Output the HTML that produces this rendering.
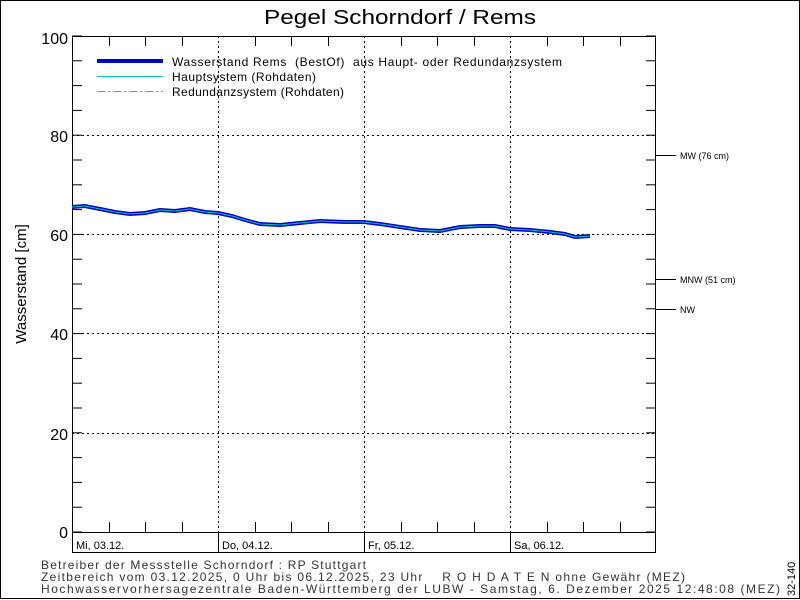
<!DOCTYPE html>
<html><head><meta charset="utf-8"><style>
body{margin:0;background:#fff}
svg{display:block;font-family:"Liberation Sans",sans-serif}
text{white-space:pre}
</style></head><body>
<svg width="800" height="600" viewBox="0 0 800 600">
<rect x="0.5" y="0.5" width="799" height="598" fill="#fff" stroke="#000"/>
<text x="264" y="24" font-size="20" textLength="272" lengthAdjust="spacingAndGlyphs">Pegel Schorndorf / Rems</text>
<g stroke="#000" stroke-dasharray="2,3" stroke-width="1">
<line x1="72" y1="135.5" x2="656" y2="135.5"/>
<line x1="72" y1="234.5" x2="656" y2="234.5"/>
<line x1="72" y1="333.5" x2="656" y2="333.5"/>
<line x1="72" y1="433.5" x2="656" y2="433.5"/>
<line x1="218.5" y1="36" x2="218.5" y2="532"/>
<line x1="364.5" y1="36" x2="364.5" y2="532"/>
<line x1="510.5" y1="36" x2="510.5" y2="532"/>
</g>
<rect x="72.5" y="36.5" width="583" height="516" fill="none" stroke="#000"/>
<line x1="72" y1="532.5" x2="656" y2="532.5" stroke="#000"/>
<g stroke="#000">
<line x1="218.5" y1="532" x2="218.5" y2="553"/>
<line x1="364.5" y1="532" x2="364.5" y2="553"/>
<line x1="510.5" y1="532" x2="510.5" y2="553"/>
<line x1="656" y1="155.5" x2="676" y2="155.5"/>
<line x1="656" y1="279.5" x2="676" y2="279.5"/>
<line x1="656" y1="309.5" x2="676" y2="309.5"/>
</g>
<g id="ticks" stroke="#000"></g>
<g font-size="16" text-anchor="end">
<text x="68" y="44">100</text><text x="68" y="142">80</text><text x="68" y="241">60</text>
<text x="68" y="340">40</text><text x="68" y="440">20</text><text x="68" y="538">0</text>
</g>
<text transform="translate(26,284) rotate(-90)" font-size="15" text-anchor="middle">Wasserstand [cm]</text>
<g font-size="11">
<text x="76" y="549">Mi, 03.12.</text><text x="222" y="549">Do, 04.12.</text>
<text x="368" y="549">Fr, 05.12.</text><text x="514" y="549">Sa, 06.12.</text>
</g>
<g font-size="9">
<text x="680" y="159">MW (76 cm)</text><text x="680" y="283">MNW (51 cm)</text><text x="680" y="313">NW</text>
</g>
<line x1="97" y1="61" x2="163" y2="61" stroke="#0000c0" stroke-width="4"/>
<line x1="97" y1="76.5" x2="163" y2="76.5" stroke="#00c8c8"/>
<line x1="97" y1="91.5" x2="163" y2="91.5" stroke="#00c8c8" stroke-dasharray="8,3,2,3"/>
<g font-size="12">
<text x="172" y="66" textLength="390" lengthAdjust="spacing">Wasserstand Rems  (BestOf)  aus Haupt- oder Redundanzsystem</text>
<text x="172" y="81" textLength="144" lengthAdjust="spacing">Hauptsystem (Rohdaten)</text>
<text x="172" y="96" textLength="172" lengthAdjust="spacing">Redundanzsystem (Rohdaten)</text>
</g>
<polyline fill="none" stroke="#0000c0" stroke-width="4" points="72,207 85,206 100,209 115,212 130,214 145,213 160,210 175,211 190,209 205,212 218,213 232,216 245,220 260,224 280,225 300,223 320,221 345,222 364,222 380,224 400,227 420,230 440,231 460,227 480,226 495,226 510,229 530,230 550,232 565,234 575,237 590,236"/>
<polyline fill="none" stroke="#00c8c8" stroke-width="1" points="72,207 85,206 100,209 115,212 130,214 145,213 160,210 175,211 190,209 205,212 218,213 232,216 245,220 260,224 280,225 300,223 320,221 345,222 364,222 380,224 400,227 420,230 440,231 460,227 480,226 495,226 510,229 530,230 550,232 565,234 575,237 590,236"/>
<g font-size="12" fill="#333">
<text x="41" y="569" textLength="325" lengthAdjust="spacing">Betreiber der Messstelle Schorndorf : RP Stuttgart</text>
<text x="41" y="581" textLength="644" lengthAdjust="spacing">Zeitbereich vom 03.12.2025, 0 Uhr bis 06.12.2025, 23 Uhr    R O H D A T E N ohne Gewähr (MEZ)</text>
<text x="41" y="593" textLength="739" lengthAdjust="spacing">Hochwasservorhersagezentrale Baden-Württemberg der LUBW - Samstag, 6. Dezember 2025 12:48:08 (MEZ)</text>
</g>
<text transform="translate(795,596) rotate(-90)" font-size="11">32-140</text>
</svg>
<script>
var g=document.getElementById('ticks'),s='';
for(var v=0;v<=100;v+=5){var y=(532-4.96*v).toFixed(1);
s+='<line x1="72" y1="'+y+'" x2="82" y2="'+y+'"/><line x1="646" y1="'+y+'" x2="656" y2="'+y+'"/>';}
for(var i=1;i<16;i++){var x=72+36.5*i;if(i%4==0)continue;x=Math.round(x)+0.5;
s+='<line x1="'+x+'" y1="36" x2="'+x+'" y2="46"/><line x1="'+x+'" y1="522" x2="'+x+'" y2="532"/>';}
g.innerHTML=s;
</script>
</body></html>
